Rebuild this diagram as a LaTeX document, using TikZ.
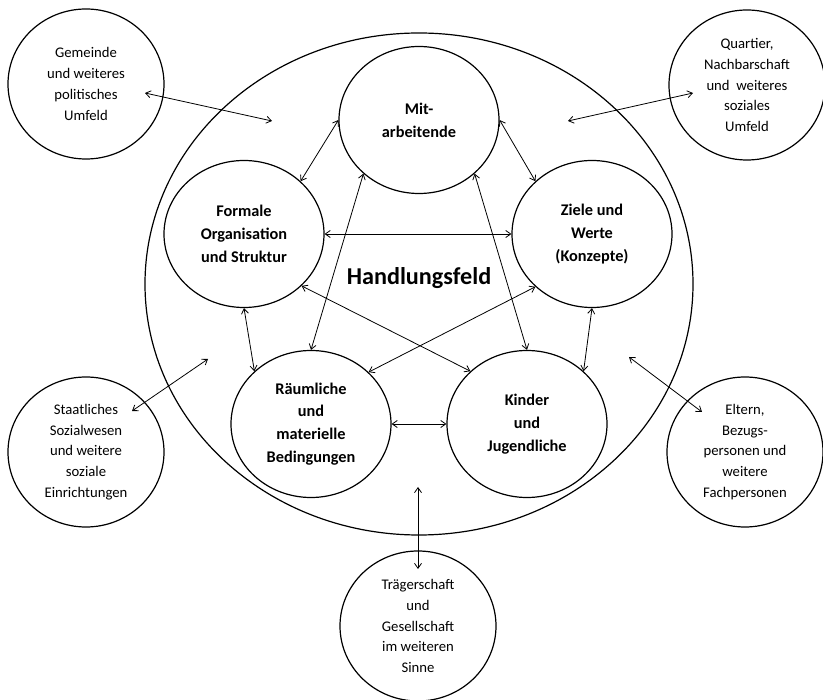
\documentclass[tikz,border=0pt]{standalone}
\usepackage{fontspec}
\setmainfont{Carlito}
\usetikzlibrary{shapes.geometric,arrows.meta}
\begin{document}
\begin{tikzpicture}[x=1pt,y=-1pt,
  ring/.style={ellipse,draw,line width=1.2pt,inner sep=0pt},
  outerbox/.style={ring,minimum width=156pt,minimum height=150pt,align=center,
    font=\fontsize{14.7}{20.7}\selectfont},
  innerbox/.style={ring,minimum width=160pt,minimum height=147pt,align=center,
    font=\bfseries\fontsize{16.3}{22.7}\selectfont},
  link/.style={line width=0.8pt,{Straight Barb[length=5pt,width=7pt]}-{Straight Barb[length=5pt,width=7pt]}}
]
\useasboundingbox (0,0) rectangle (823,700);

% field of action
\node[ring,minimum width=548pt,minimum height=502pt] (feld) at (419,284) {};
\node[font=\bfseries\fontsize{24.2}{28}\selectfont] (title) at (419,278) {Handlungsfeld};

% inner elements
\node[innerbox] (mit) at (419,120) {Mit-\\arbeitende};
\node[innerbox] (formal) at (244,234) {Formale\\Organisation\\und Struktur};
\node[innerbox] (ziele) at (592,234) {Ziele und\\Werte\\(Konzepte)};
\node[innerbox] (raum) at (311,424) {Räumliche\\und\\materielle\\Bedingungen};
\node[innerbox] (kinder) at (527,424) {Kinder\\und\\Jugendliche};

% surrounding context
\node[outerbox] (gemeinde) at (86,84) {Gemeinde\\und weiteres\\politisches\\Umfeld};
\node[outerbox] (quartier) at (747,85) {Quartier,\\Nachbarschaft\\und\ \ weiteres\\soziales\\Umfeld};
\node[outerbox] (staat) at (86,452) {Staatliches\\Sozialwesen\\und weitere\\soziale\\Einrichtungen};
\node[outerbox] (eltern) at (745,452) {Eltern,\\Bezugs-\\personen und\\weitere\\Fachpersonen};
\node[outerbox] (traeger) at (418,626) {Trägerschaft\\und\\Gesellschaft\\im weiteren\\Sinne};

% connections between the inner elements
\draw[link] (mit.west) -- (formal.43);
\draw[link] (mit.east) -- (ziele.137);
\draw[link] (formal.east) -- (ziele.west);
\draw[link] (mit.224) -- (raum.north);
\draw[link] (mit.316) -- (kinder.north);
\draw[link] (formal.south) -- (raum.137);
\draw[link] (ziele.south) -- (kinder.43);
\draw[link] (formal.318) -- (kinder.137);
\draw[link] (ziele.223) -- (raum.42);
\draw[link] (raum.east) -- (kinder.west);

% connections to the context
\coordinate (gIn) at (145,93);   \coordinate (gOut) at (272,121);
\coordinate (qIn) at (693,93);   \coordinate (qOut) at (568,121);
\coordinate (sIn) at (132,411);  \coordinate (sOut) at (208,359);
\coordinate (eIn) at (702,412);  \coordinate (eOut) at (629,357);
\coordinate (tIn) at (418,569);  \coordinate (tOut) at (418,487);
\draw[link] (gIn) -- (gOut);
\draw[link] (qIn) -- (qOut);
\draw[link] (sIn) -- (sOut);
\draw[link] (eIn) -- (eOut);
\draw[link] (tIn) -- (tOut);
\end{tikzpicture}
\end{document}
